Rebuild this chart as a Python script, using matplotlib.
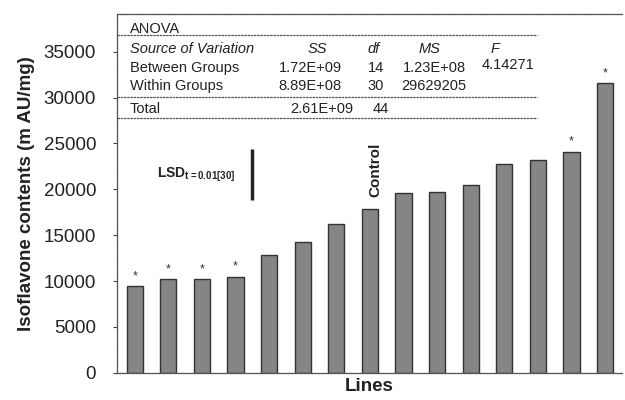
import matplotlib
matplotlib.use("Agg")
import matplotlib.pyplot as plt

plt.rcParams['font.family'] = ['Liberation Sans', 'DejaVu Sans']
plt.rcParams['mathtext.fontset'] = 'custom'
plt.rcParams['mathtext.rm'] = 'Liberation Sans'
plt.rcParams['mathtext.bf'] = 'Liberation Sans:bold'

# bar data (15 lines, sorted ascending)
values = [9450, 10190, 10190, 10440, 12840, 14220, 16220, 17880,
          19560, 19740, 20470, 22730, 23160, 24100, 31560]
starred = [True, True, True, True, False, False, False, False,
           False, False, False, False, False, True, True]
control_idx = 7
yticks = [0, 5000, 10000, 15000, 20000, 25000, 30000, 35000]

# LSD bar (x position, bottom, top)
lsd_x = 3.48
lsd_lo, lsd_hi = 18850, 24400

# ANOVA table
anova_rows = [
    ("Between Groups", "1.72E+09", "14", "1.23E+08", "4.14271"),
    ("Within Groups", "8.89E+08", "30", "29629205", ""),
]
anova_total = ("Total", "2.61E+09", "44")

fig = plt.figure(figsize=(6.25, 4.0), dpi=100)
ax = fig.add_axes([0.187, 0.068, 0.808, 0.897])

x = list(range(len(values)))
ax.bar(x, values, width=0.48, color="#858585", edgecolor="#333333", linewidth=1.0)

for i, (v, s) in enumerate(zip(values, starred)):
    if s:
        ax.text(i, v + 450, "*", ha="center", va="bottom", fontsize=9, color="#333333")

ax.text(control_idx + 0.17, values[control_idx] + 1250, "Control", rotation=90,
        ha="center", va="bottom", fontsize=11, fontweight="bold", color="#222222")

# LSD marker
ax.plot([lsd_x, lsd_x], [lsd_lo, lsd_hi], color="#222222", linewidth=2.5,
        solid_capstyle="butt")
ax.text(0.66, 21600, r"$\mathbf{LSD_{t=0.01[30]}}$", ha="left", va="center",
        fontsize=10, color="#222222")

ax.set_xlim(-0.53, 14.5)
ax.set_ylim(0, 39100)
ax.set_yticks(yticks)
ax.set_yticklabels([str(t) for t in yticks], fontsize=13.5, color="#222222")
ax.set_xticks([])
ax.tick_params(axis="y", direction="out", length=3, width=0.8, color="#444444", pad=12)

for side in ["left", "bottom", "top"]:
    ax.spines[side].set_color("#555555")
    ax.spines[side].set_linewidth(0.9)
    ax.spines[side].set_linestyle((0, (2, 0.6)))
ax.spines["right"].set_visible(False)

ax.set_ylabel("Isoflavone contents (m AU/mg)", fontsize=13.5, fontweight="bold",
              color="#222222", labelpad=6)
ax.set_xlabel("Lines", fontsize=13.5, fontweight="bold", color="#222222", labelpad=4)

# ANOVA table in axes coordinates
tc = "#222222"
fs = 10.5
ax.text(0.026, 0.958, "ANOVA", transform=ax.transAxes, ha="left", va="center",
        fontsize=fs, color=tc)
hy = 0.9025
ax.text(0.026, hy, "Source of Variation", transform=ax.transAxes, ha="left",
        va="center", fontsize=fs, style="italic", color=tc)
ax.text(0.396, hy, "SS", transform=ax.transAxes, ha="center", va="center",
        fontsize=fs, style="italic", color=tc)
ax.text(0.509, hy, "df", transform=ax.transAxes, ha="center", va="center",
        fontsize=fs, style="italic", color=tc)
ax.text(0.620, hy, "MS", transform=ax.transAxes, ha="center", va="center",
        fontsize=fs, style="italic", color=tc)
ax.text(0.749, hy, "F", transform=ax.transAxes, ha="center", va="center",
        fontsize=fs, style="italic", color=tc)

row_y = [0.850, 0.799]
for ry, (name, ss, df, ms, f) in zip(row_y, anova_rows):
    ax.text(0.026, ry, name, transform=ax.transAxes, ha="left", va="center",
            fontsize=fs, color=tc)
    ax.text(0.383, ry, ss, transform=ax.transAxes, ha="center", va="center",
            fontsize=fs, color=tc)
    ax.text(0.513, ry, df, transform=ax.transAxes, ha="center", va="center",
            fontsize=fs, color=tc)
    ax.text(0.628, ry, ms, transform=ax.transAxes, ha="center", va="center",
            fontsize=fs, color=tc)
    if f:
        ax.text(0.775, ry + 0.008, f, transform=ax.transAxes, ha="center",
                va="center", fontsize=fs, color=tc)

ty = 0.735
ax.text(0.026, ty, anova_total[0], transform=ax.transAxes, ha="left", va="center",
        fontsize=fs, color=tc)
ax.text(0.406, ty, anova_total[1], transform=ax.transAxes, ha="center", va="center",
        fontsize=fs, color=tc)
ax.text(0.523, ty, anova_total[2], transform=ax.transAxes, ha="center", va="center",
        fontsize=fs, color=tc)

for ly in [0.9415, 0.7686, 0.7100]:
    ax.plot([0.0, 0.832], [ly, ly], transform=ax.transAxes, color="#555555",
            linewidth=0.9, linestyle=(0, (2, 0.6)), clip_on=False)

fig.savefig("out.png", dpi=100)
